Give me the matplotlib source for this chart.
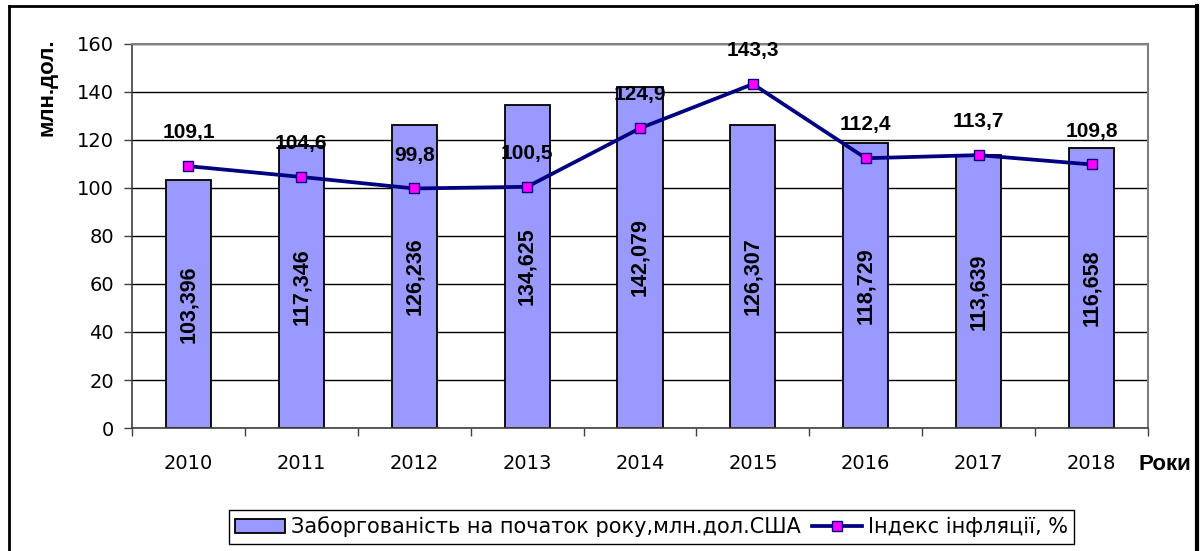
import matplotlib
matplotlib.use("Agg")
import matplotlib.pyplot as plt
from matplotlib.lines import Line2D
import numpy as np

plt.rcParams['font.family'] = ['DejaVu Sans']

years = ['2010', '2011', '2012', '2013', '2014', '2015', '2016', '2017', '2018']
debt = [103.396, 117.346, 126.236, 134.625, 142.079, 126.307, 118.729, 113.639, 116.658]
inflation = [109.1, 104.6, 99.8, 100.5, 124.9, 143.3, 112.4, 113.7, 109.8]
yticks = [0, 20, 40, 60, 80, 100, 120, 140, 160]

bar_label = 'Заборгованість на початок року,млн.дол.США'
line_label = 'Індекс інфляції, %'

BOLD = ['Liberation Sans', 'DejaVu Sans']

W, H = 1200, 551
fig = plt.figure(figsize=(12, 5.51), dpi=100)
ax = fig.add_axes([132 / W, 1 - 428 / H, (1148 - 132) / W, (428 - 44) / H])

x = np.arange(len(years))
bars = ax.bar(x, debt, width=0.4, color='#9999FF', edgecolor='black', linewidth=1.3,
              label=bar_label, zorder=2)
line, = ax.plot(x, inflation, color='#000080', linewidth=2.7, marker='s', markersize=7,
                markerfacecolor='#FF00FF', markeredgecolor='#000080', markeredgewidth=1.0,
                label=line_label, zorder=3)

for xi, v in zip(x, debt):
    ax.text(xi, v / 2, f'{v:.3f}'.replace('.', ','), rotation=90, ha='center', va='center',
            fontsize=15.5, fontweight='bold', family=BOLD, zorder=4)
for xi, v in zip(x, inflation):
    ax.annotate(f'{v:.1f}'.replace('.', ','), (xi, v), xytext=(0, 24), textcoords='offset points',
                ha='center', va='center', fontsize=15, fontweight='bold', family=BOLD, zorder=4)

ax.set_xlim(-0.5, len(years) - 0.5)
ax.set_ylim(0, 160)
ax.set_yticks(yticks)
ax.set_yticklabels([str(t) for t in yticks], fontsize=14)
ax.set_xticks(x)
ax.set_xticklabels(years, fontsize=14)
ax.set_xticks(np.arange(len(years) + 1) - 0.5, minor=True)
ax.tick_params(axis='x', which='major', length=0, pad=19)
ax.tick_params(axis='x', which='minor', length=6, width=1, color='#404040')
ax.tick_params(axis='y', length=6, width=1, color='#404040', pad=7)
ax.yaxis.grid(True, color='black', linewidth=1, zorder=0)
ax.set_axisbelow(True)
for s in ['top', 'right']:
    ax.spines[s].set_color('#808080')
    ax.spines[s].set_linewidth(1.5)
ax.spines['left'].set_color('#404040')
ax.spines['left'].set_linewidth(1.2)
ax.spines['bottom'].set_color('#404040')
ax.spines['bottom'].set_linewidth(1.2)

fig.text(47 / W, 1 - 87 / H, 'млн.дол.', rotation=90, ha='center', va='center',
         fontsize=16, fontweight='bold', family=BOLD)
fig.text(1165 / W, 1 - 464 / H, 'Роки', ha='center', va='center',
         fontsize=16, fontweight='bold', family=BOLD)

leg = fig.legend(handles=[bars, line], labels=[bar_label, line_label], loc='center',
                 bbox_to_anchor=(651.5 / W, 1 - 527 / H), ncol=2, fontsize=15, frameon=True,
                 fancybox=False, edgecolor='black', framealpha=1, borderpad=0.3,
                 handlelength=2.4, handletextpad=0.3, columnspacing=0.5, borderaxespad=0)
leg.get_frame().set_linewidth(1.0)

# outer frame with shadow
fig.add_artist(Line2D([9 / W, 9 / W], [1 - 6 / H, -0.05], color='black', linewidth=2,
                      transform=fig.transFigure))
fig.add_artist(Line2D([9 / W, 1195 / W], [1 - 6 / H, 1 - 6 / H], color='black', linewidth=2,
                      transform=fig.transFigure))
fig.add_artist(Line2D([1196.5 / W, 1196.5 / W], [1 - 6 / H, -0.05], color='black', linewidth=3,
                      transform=fig.transFigure))

fig.savefig('out.png', dpi=100)
